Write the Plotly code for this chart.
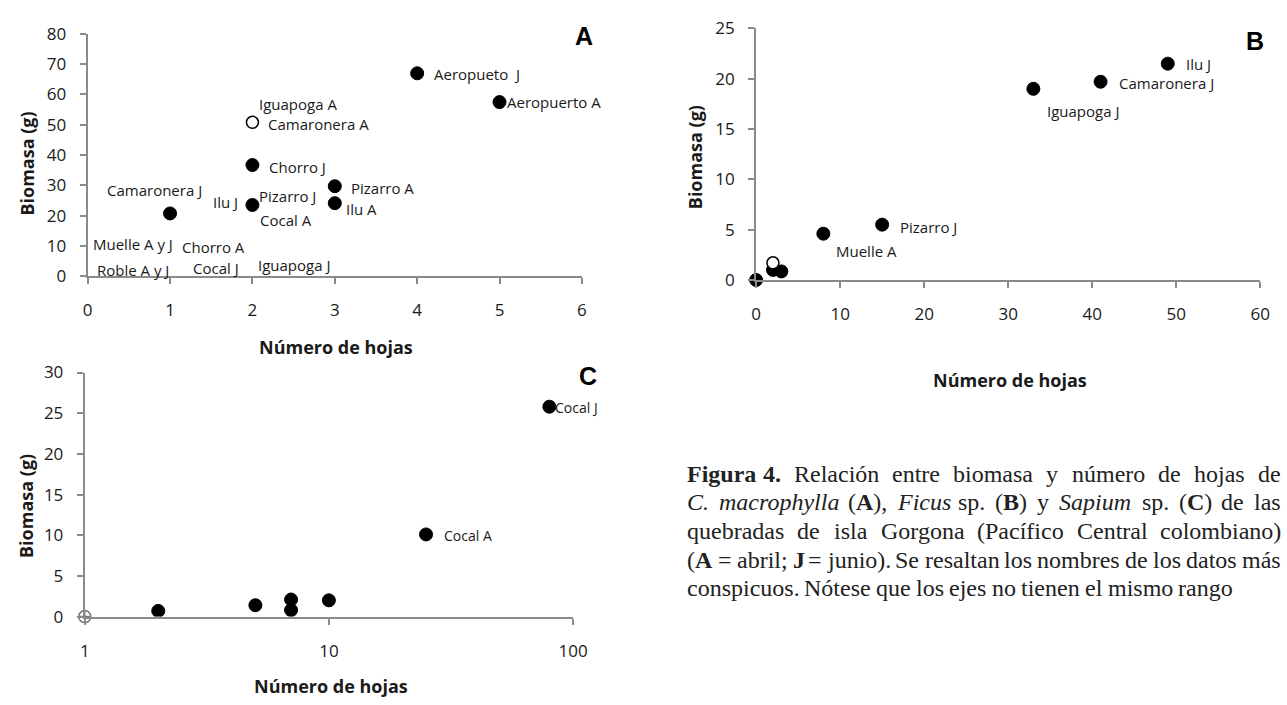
import math
import plotly.graph_objects as go

W, H = 1287, 705

# ---------------- data ----------------
# Panel A (C. macrophylla)
a_x = [1, 2, 2, 3, 3, 4, 5]
a_y = [20.7, 23.5, 36.7, 29.7, 24.1, 67.0, 57.5]
a_open_x = [2]
a_open_y = [50.8]
a_labels = ["Camaronera J", "Ilu J", "Pizarro J", "Cocal A", "Chorro J", "Camaronera A",
            "Iguapoga A", "Muelle A y J", "Roble A y J", "Chorro A", "Cocal J", "Iguapoga J",
            "Pizarro A", "Ilu A", "Aeropueto  J", "Aeropuerto A"]
a_lab_x = [0.81, 1.67, 2.42, 2.41, 2.55, 2.80, 2.55, 0.55, 0.55, 1.53, 1.56, 2.50,
           3.58, 3.33, 4.73, 5.66]
a_lab_y = [28.6, 24.4, 26.3, 18.4, 36.2, 50.2, 56.8, 10.5, 2.0, 9.6, 2.7, 3.8,
           29.0, 22.2, 66.7, 57.5]

# Panel B (Ficus sp.)
b_x = [0, 2, 3, 8, 15, 33, 41, 49]
b_y = [0.0, 1.0, 0.85, 4.6, 5.5, 19.0, 19.7, 21.5]
b_open_x = [2]
b_open_y = [1.7]
b_labels = ["Ilu J", "Camaronera J", "Iguapoga J", "Pizarro J", "Muelle A"]
b_lab_x = [52.6, 48.9, 38.9, 20.5, 13.1]
b_lab_y = [21.5, 19.6, 16.8, 5.3, 2.9]

# Panel C (Sapium sp.)  -- label x = left edge of the label text (data units)
c_x = [2, 5, 7, 7, 10, 25, 80]
c_y = [0.7, 1.4, 2.1, 0.8, 2.0, 10.1, 25.8]
c_open_x = [1]
c_open_y = [0.0]
c_labels = ["Cocal J", "Cocal A"]
c_lab_x = [83, 29]
c_lab_y = [25.7, 10.0]

x_title = "Número de hojas"
y_title = "Biomasa (g)"
caption_lines = [
    "<b>Figura</b> <b>4.</b> Relación entre biomasa y número de hojas de",
    "<i>C.</i> <i>macrophylla</i> (<b>A</b>), <i>Ficus</i> sp. (<b>B</b>) y <i>Sapium</i> sp. (<b>C</b>) de las",
    "quebradas de isla Gorgona (Pacífico Central colombiano)",
    "(<b>A</b> = abril; <b>J</b> = junio). Se resaltan los nombres de los datos más",
    "conspicuos. Nótese que los ejes no tienen el mismo rango",
]

# ---------------- helpers ----------------
def px(x):
    return x / W

def py(y):
    return 1 - y / H

# Times / Liberation Serif advance widths (1/1000 em) used to justify the caption
TW = {" ": 250, "a": 444, "b": 500, "c": 444, "d": 500, "e": 444, "f": 333, "g": 500, "h": 500,
      "i": 278, "j": 278, "k": 500, "l": 278, "m": 778, "n": 500, "o": 500, "p": 500, "q": 500,
      "r": 333, "s": 389, "t": 278, "u": 500, "v": 500, "w": 722, "x": 500, "y": 500, "z": 444,
      "A": 722, "B": 667, "C": 667, "D": 722, "F": 556, "G": 722, "J": 389, "N": 722, "P": 556,
      "R": 667, "S": 556, "á": 444, "é": 444, "í": 278, "ó": 500, "ú": 500, ".": 250, ",": 250,
      ";": 278, "(": 333, ")": 333, "=": 564, "4": 500}

def strip_tags(s):
    out, skip = "", False
    for ch in s:
        if ch == "<":
            skip = True
        elif ch == ">":
            skip = False
        elif not skip:
            out += ch
    return out

def tw(s, size):
    return sum(TW.get(ch, 500) for ch in strip_tags(s)) / 1000 * size

SANS = "Open Sans"
AXC = "#8a8a8a"
TXT = "#1a1a1a"

fig = go.Figure()

mk = dict(color="black", size=13, line=dict(color="black", width=1))
mk_open = dict(color="white", size=12, line=dict(color="black", width=1.5))

fig.add_trace(go.Scatter(x=a_x, y=a_y, mode="markers", marker=mk, xaxis="x", yaxis="y", showlegend=False))
fig.add_trace(go.Scatter(x=a_open_x, y=a_open_y, mode="markers", marker=mk_open, xaxis="x", yaxis="y", showlegend=False))
fig.add_trace(go.Scatter(x=b_x, y=b_y, mode="markers", marker=mk, xaxis="x2", yaxis="y2", showlegend=False, cliponaxis=False))
fig.add_trace(go.Scatter(x=b_open_x, y=b_open_y, mode="markers", marker=mk_open, xaxis="x2", yaxis="y2", showlegend=False))
fig.add_trace(go.Scatter(x=c_x, y=c_y, mode="markers", marker=mk, xaxis="x3", yaxis="y3", showlegend=False))
fig.add_trace(go.Scatter(x=c_open_x, y=c_open_y, mode="markers",
                         marker=dict(symbol="circle-cross-open", color="#777777", size=12, line=dict(width=1.5)),
                         xaxis="x3", yaxis="y3", showlegend=False, cliponaxis=False))

ax_common = dict(showline=True, linecolor=AXC, linewidth=2, ticks="outside", ticklen=6,
                 tickcolor=AXC, tickwidth=2, showgrid=False, zeroline=False,
                 tickfont=dict(family=SANS, size=17, color=TXT), fixedrange=True)

xa = dict(ax_common, ticklabelstandoff=12)
ya = dict(ax_common, ticklabelstandoff=10)

fig.update_layout(
    width=W, height=H, margin=dict(l=0, r=0, t=0, b=0),
    paper_bgcolor="white", plot_bgcolor="white",
    xaxis=dict(xa, domain=[px(84), px(586)], range=[0, 6], dtick=1, anchor="y"),
    yaxis=dict(ya, domain=[py(273), py(22.7)], range=[0, 80], dtick=10, anchor="x"),
    xaxis2=dict(xa, domain=[px(763), px(1275)], range=[0, 60], dtick=10, anchor="y2"),
    yaxis2=dict(ya, domain=[py(277), py(17)], range=[0, 25], dtick=5, anchor="x2"),
    xaxis3=dict(xa, domain=[px(81), px(577)], type="log", range=[0, 2],
                tickvals=[1, 10, 100], ticktext=["1", "10", "100"], anchor="y3"),
    yaxis3=dict(ya, domain=[py(625), py(372.7)], range=[0, 30], dtick=5, anchor="x3"),
)

ann = []
lab_font = dict(family=SANS, size=15, color=TXT)
for t, x, y in zip(a_labels, a_lab_x, a_lab_y):
    ann.append(dict(text=t, x=x, y=y, xref="x", yref="y", showarrow=False, font=lab_font))
for t, x, y in zip(b_labels, b_lab_x, b_lab_y):
    ann.append(dict(text=t, x=x, y=y, xref="x2", yref="y2", showarrow=False, font=lab_font))
for t, x, y in zip(c_labels, c_lab_x, c_lab_y):
    ann.append(dict(text=t, x=math.log10(x), y=y, xref="x3", yref="y3", showarrow=False,
                    xanchor="left", font=dict(family=SANS, size=14, color=TXT)))

tfont = dict(family=SANS, size=18, color=TXT)
titles = [
    (x_title, 336, 346, 0), (y_title, 22, 157, -90),
    (x_title, 1021, 380, 0), (y_title, 701, 150, -90),
    (x_title, 331, 697, 0), (y_title, 22, 511, -90),
]
for t, x, y, ang in titles:
    ann.append(dict(text="<b>" + t + "</b>", x=px(x), y=py(y), xref="paper", yref="paper",
                    showarrow=False, textangle=ang, font=tfont, xanchor="center", yanchor="middle"))

for t, x, y in [("A", 588, 25), ("B", 1270, 30), ("C", 592, 376)]:
    ann.append(dict(text="<b>" + t + "</b>", x=px(x), y=py(y), xref="paper", yref="paper",
                    showarrow=False, font=dict(family="Liberation Sans", size=25, color="black"),
                    xanchor="center", yanchor="middle"))

# caption, justified between cap_left and cap_right (last line left-aligned)
CAP_SIZE = 24
cap_left, cap_right = 691, 1293
cap_y = [478, 507, 537, 566, 595]
cap_font = dict(family="Liberation Serif", size=CAP_SIZE, color="#222222")
for i, (line, y) in enumerate(zip(caption_lines, cap_y)):
    words = line.split(" ")
    widths = [tw(w, CAP_SIZE) for w in words]
    if i < len(caption_lines) - 1 and len(words) > 1:
        gap = (cap_right - cap_left - sum(widths)) / (len(words) - 1)
    else:
        gap = 0.25 * CAP_SIZE
    x = cap_left
    for w, wd in zip(words, widths):
        ann.append(dict(text=w, x=px(x), y=py(y), xref="paper", yref="paper", showarrow=False,
                        xanchor="left", yanchor="middle", font=cap_font))
        x += wd + gap

fig.update_layout(annotations=ann)
fig.write_html("out.html", config={"displayModeBar": False},
               post_script="document.body.style.margin='0px';document.body.style.overflow='hidden';")
